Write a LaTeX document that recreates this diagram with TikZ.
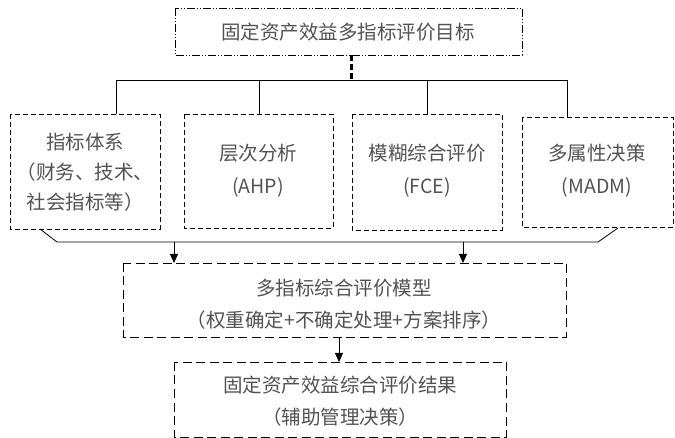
\documentclass[tikz,border=0pt]{standalone}
\usepackage{fontspec}
\setmainfont{Noto Sans CJK SC}
\usetikzlibrary{arrows.meta}
\begin{document}
\begin{tikzpicture}[x=1pt,y=-1pt,
  txt/.style={text=black!68, font=\fontsize{19.5}{31}\selectfont, align=center, inner sep=0pt},
  topbox/.style={draw, line width=0.9pt, dash pattern=on 8pt off 2pt on 1pt off 2pt on 1pt off 2pt},
  smallbox/.style={draw, line width=0.9pt, dash pattern=on 5pt off 3pt},
  bigbox/.style={draw, line width=0.9pt, dash pattern=on 9pt off 4.5pt},
  link/.style={draw, line width=0.8pt},
  arr/.style={link, -{Triangle[length=9pt,width=8pt]}}
]
\useasboundingbox (0,0) rectangle (675,438);
% boxes
\draw[topbox] (175,8) rectangle (522,55);
\node[txt] (top) at (348,32) {固定资产效益多指标评价目标};
\coordinate (topb) at (351,55);

\draw[smallbox] (10,114) rectangle (160,229);
\node[txt, font=\fontsize{19.5}{30}\selectfont] (b1) at (85,172) {指标体系\\（财务、技术、\\社会指标等）};
\draw[smallbox] (184,114) rectangle (333,228);
\node[txt, font=\fontsize{19.5}{33}\selectfont] (b2) at (258,171) {层次分析\\(AHP)};
\draw[smallbox] (352,114) rectangle (502,230);
\node[txt, font=\fontsize{19.5}{33}\selectfont] (b3) at (427,171) {模糊综合评价\\(FCE)};
\draw[smallbox] (522,117) rectangle (673,227);
\node[txt, font=\fontsize{19.5}{33}\selectfont] (b4) at (597,171) {多属性决策\\(MADM)};

\draw[bigbox] (123,263) rectangle (566,337);
\node[txt, font=\fontsize{19.5}{32}\selectfont] (mid) at (344,304) {多指标综合评价模型\\（权重确定+不确定处理+方案排序）};
\draw[bigbox] (174,362) rectangle (506,437);
\node[txt, font=\fontsize{19.5}{32}\selectfont] (res) at (340,401) {固定资产效益综合评价结果\\（辅助管理决策）};

% coordinates
\coordinate (hb) at (351,80);
\coordinate (h1) at (116,80);
\coordinate (h2) at (259,80);
\coordinate (h3) at (427,80);
\coordinate (h4) at (567,80);
\coordinate (b1t) at (116,114);
\coordinate (b2t) at (259,114);
\coordinate (b3t) at (427,114);
\coordinate (b4t) at (567,117);

\draw[line width=3pt, dash pattern=on 6pt off 3pt] (topb) -- (hb);
\draw[link] (h1) -- (h4);
\draw[link] (h1) -- (b1t);
\draw[link] (h2) -- (b2t);
\draw[link] (h3) -- (b3t);
\draw[link] (h4) -- (b4t);

\coordinate (s1) at (40,229);
\coordinate (c1) at (57,242);
\coordinate (c2) at (598,242);
\coordinate (s2) at (618,228);
\draw[link] (s1) -- (c1) -- (c2) -- (s2);
\coordinate (a1) at (174,242);
\coordinate (a1e) at (174,263);
\coordinate (a2) at (463,242);
\coordinate (a2e) at (463,263);
\draw[arr] (a1) -- (a1e);
\draw[arr] (a2) -- (a2e);
\coordinate (m1) at (339,337);
\coordinate (m2) at (339,362);
\draw[arr] (m1) -- (m2);
\end{tikzpicture}
\end{document}
